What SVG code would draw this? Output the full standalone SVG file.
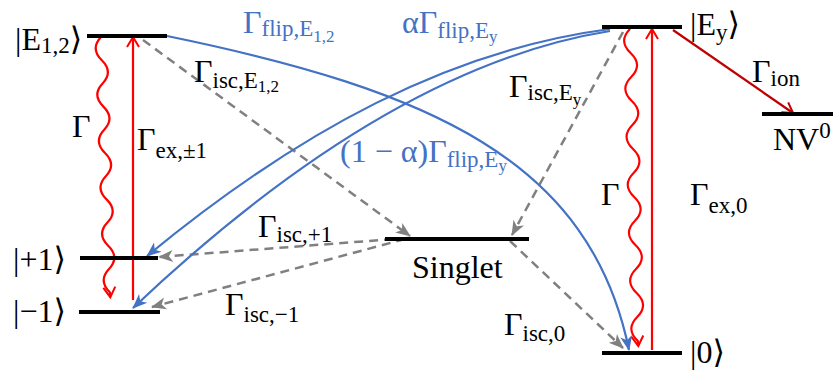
<svg xmlns="http://www.w3.org/2000/svg" width="833" height="378" viewBox="0 0 833 378">
<style>
text{font-family:"Liberation Serif","DejaVu Serif",serif;font-size:32px;fill:#000}
.b{fill:#4472C4}
.s{font-size:23px}
.ss{font-size:17px}
.bar{stroke:#000;stroke-width:4;fill:none}
.red{stroke:#FF0000;stroke-width:2.2;fill:none}
.dred{stroke:#C00000;stroke-width:2.2;fill:none}
.blue{stroke:#4472C4;stroke-width:2.2;fill:none}
.gray{stroke:#808080;stroke-width:2.5;fill:none;stroke-dasharray:9 6}
</style>
<defs>
<marker id="vR" markerUnits="userSpaceOnUse" markerWidth="14" markerHeight="14" refX="11" refY="7" orient="auto" overflow="visible">
<path d="M1,1 L11,7 L1,13" fill="none" stroke="#FF0000" stroke-width="2"/>
</marker>
<marker id="vDR" markerUnits="userSpaceOnUse" markerWidth="14" markerHeight="14" refX="11" refY="7" orient="auto" overflow="visible">
<path d="M1,1 L11,7 L1,13" fill="none" stroke="#C00000" stroke-width="2"/>
</marker>
<marker id="sB" markerUnits="userSpaceOnUse" markerWidth="16" markerHeight="12" refX="14" refY="6" orient="auto" overflow="visible">
<path d="M0,0 L15,6 L0,12 L4,6 Z" fill="#4472C4"/>
</marker>
<marker id="sG" markerUnits="userSpaceOnUse" markerWidth="16" markerHeight="12" refX="14" refY="6" orient="auto" overflow="visible">
<path d="M0,0 L15,6 L0,12 L4,6 Z" fill="#808080"/>
</marker>
</defs>

<g id="connectors">
<path class="red" d="M101,37 q-11,11.6 0.8,23.2 t0.8,23.2 t0.8,23.2 t0.8,23.2 t0.8,23.2 t0.8,23.2 t0.8,23.2 t0.8,23.2 t0.8,23.2 t0.8,23.2 t0.8,23.2 l0.5,5" marker-end="url(#vR)"/>
<line class="red" x1="133" y1="300" x2="133" y2="37" marker-end="url(#vR)"/>
<path class="red" d="M630,29 q-12,12 0.6,24 t0.6,24 t0.6,24 t0.6,24 t0.6,24 t0.6,24 t0.6,24 t0.6,24 t0.6,24 t0.6,24 t0.6,24 t0.6,24 t0.6,24 l0.5,5" marker-end="url(#vR)"/>
<line class="red" x1="652" y1="350" x2="652" y2="29" marker-end="url(#vR)"/>
<line class="dred" x1="673" y1="30" x2="793" y2="113" marker-end="url(#vDR)"/>
<line class="gray" x1="143" y1="40" x2="410" y2="236" marker-end="url(#sG)"/>
<line class="gray" x1="623" y1="32" x2="512" y2="235" marker-end="url(#sG)"/>
<line class="gray" x1="408" y1="238" x2="159" y2="257" marker-end="url(#sG)"/>
<line class="gray" x1="405" y1="239" x2="152" y2="307" marker-end="url(#sG)"/>
<line class="gray" x1="510" y1="241" x2="623" y2="348" marker-end="url(#sG)"/>
<path class="blue" d="M167,36 C430,90 590,160 629,350" marker-end="url(#sB)"/>
<path class="blue" d="M610,29 C450,50 300,130 147,256" marker-end="url(#sB)"/>
<path class="blue" d="M610,31 C460,55 300,150 133,308" marker-end="url(#sB)"/>
</g>

<g id="E12"><line class="bar" x1="87" y1="36" x2="167" y2="36"/>
<text x="15" y="50">|E<tspan class="s" dy="3">1,2</tspan><tspan dy="-3">⟩</tspan></text></g>
<g id="plus1"><line class="bar" x1="80" y1="258" x2="158" y2="258"/>
<text x="13" y="270">|+1⟩</text></g>
<g id="minus1"><line class="bar" x1="79" y1="312" x2="160" y2="312"/>
<text x="13" y="322">|−1⟩</text></g>
<g id="singlet"><line class="bar" x1="385" y1="239" x2="529" y2="239"/>
<text x="412" y="278">Singlet</text></g>
<g id="Ey"><line class="bar" x1="602" y1="27" x2="682" y2="27"/>
<text x="690" y="35">|E<tspan class="s" dy="5">y</tspan><tspan dy="-5">⟩</tspan></text></g>
<g id="zero"><line class="bar" x1="602" y1="353" x2="682" y2="353"/>
<text x="690" y="363">|0⟩</text></g>
<g id="NV0"><line class="bar" x1="762" y1="114" x2="833" y2="114"/>
<text x="773" y="150">NV<tspan class="s" dy="-12">0</tspan></text></g>

<g id="labels">
<text x="72" y="137">Γ</text>
<text x="137" y="150">Γ<tspan class="s" dy="8">ex,±1</tspan></text>
<text x="194" y="82">Γ<tspan class="s" dy="6">isc,E</tspan><tspan class="ss" dy="4">1,2</tspan></text>
<text class="b" x="243" y="33">Γ<tspan class="s" dy="3">flip,E</tspan><tspan class="ss" dy="6">1,2</tspan></text>
<text class="b" x="402" y="33">αΓ<tspan class="s" dy="5">flip,E</tspan><tspan class="ss" dy="4">y</tspan></text>
<text x="509" y="97">Γ<tspan class="s" dy="3">isc,E</tspan><tspan class="ss" dy="5">y</tspan></text>
<text class="b" x="340" y="162">(1 − α)Γ<tspan class="s" dy="5">flip,E</tspan><tspan class="ss" dy="4">y</tspan></text>
<text x="752" y="82">Γ<tspan class="s" dy="4">ion</tspan></text>
<text x="601" y="205">Γ</text>
<text x="690" y="205">Γ<tspan class="s" dy="8">ex,0</tspan></text>
<text x="258" y="237">Γ<tspan class="s" dy="5">isc,+1</tspan></text>
<text x="225" y="315">Γ<tspan class="s" dy="7">isc,−1</tspan></text>
<text x="504" y="335">Γ<tspan class="s" dy="6">isc,0</tspan></text>
</g>
</svg>
